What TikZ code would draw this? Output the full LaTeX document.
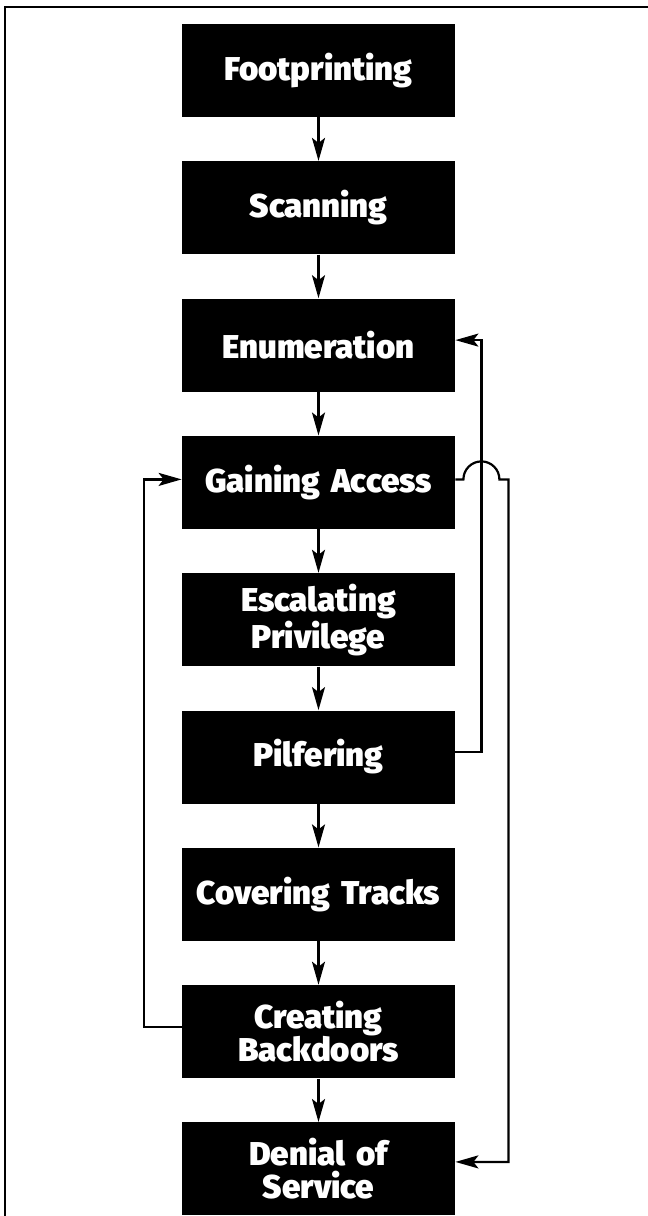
\documentclass[tikz,border=0pt]{standalone}
\usepackage{fontspec}
\setmainfont{Fira Sans}[BoldFont={Fira Sans Black}]
\usetikzlibrary{positioning,arrows.meta}
\begin{document}
\begin{tikzpicture}[x=0.5pt,y=-0.5pt,
  stage/.style={fill=black,text=white,font=\bfseries\fontsize{16.5pt}{16.5pt}\selectfont,
    minimum width=136.5pt,minimum height=46.5pt,text width=134pt,align=center,inner sep=0pt},
  flow/.style={-{Stealth[length=11.5pt,width=6.5pt,inset=2.5pt]},line width=1.1pt},
  node distance=21.75pt]
\useasboundingbox (0,0) rectangle (648,1216);
\draw[line width=1pt] (5,1216) -- (5,7) -- (648,7);

\node[stage] (foot) at (318.5,70.5) {Footprinting};
\node[stage,below=of foot] (scan) {Scanning};
\node[stage,below=of scan] (enum) {Enumeration};
\node[stage,below=of enum] (gain) {Gaining Access};
\node[stage,below=of gain] (esc) {Escalating\\Privilege};
\node[stage,below=of esc] (pilf) {Pilfering};
\node[stage,below=of pilf] (cover) {Covering Tracks};
\node[stage,below=of cover] (back) {Creating\\Backdoors};
\node[stage,below=of back] (deny) {Denial of\\Service};

\foreach \a/\b in {foot/scan,scan/enum,enum/gain,gain/esc,esc/pilf,pilf/cover,cover/back,back/deny} {
  \draw[flow] (\a) -- (\b);
}

\draw[flow] ([yshift=2.5pt]pilf.east) -- ++(26,0) |- ([yshift=2.5pt]enum.east);
\draw[flow] ([yshift=2.5pt]back.west) -- ++(-38,0) |- ([yshift=1.5pt]gain.west);
\draw[flow] ([yshift=1.5pt]gain.east) -- ++(8,0) arc[start angle=180,end angle=0,radius=9pt]
  -- ++(9,0) |- ([yshift=3.5pt]deny.east);
\end{tikzpicture}
\end{document}
